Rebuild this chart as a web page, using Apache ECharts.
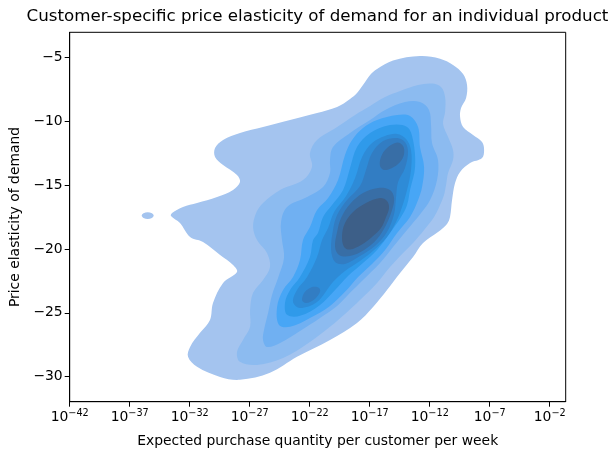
<!DOCTYPE html>
<html>
<head>
<meta charset="utf-8">
<script src="https://cdn.jsdelivr.net/npm/echarts@6/dist/echarts.min.js"></script>
<style>
  html, body { margin: 0; padding: 0; background: #fff; }
  #chart { width: 615px; height: 459px; }
</style>
</head>
<body>
<div id="chart"></div>
<script>
// x values are log10(expected purchase quantity), y values are price elasticity
var xTicks = [-42, -37, -32, -27, -22, -17, -12, -7, -2]
var yTicks = [-30, -25, -20, -15, -10, -5]

// filled KDE contour bands, lowest density first
var level1 = [
  [-18.06, -7.79], [-17.56, -7.17], [-16.97, -6.39], [-16.39, -5.92], [-15.06, -5.25],
  [-12.81, -4.90], [-11.14, -5.11], [-10.06, -5.60], [-9.22, -6.31], [-8.89, -7.17],
  [-8.97, -8.18], [-9.39, -8.97], [-9.47, -9.67], [-9.22, -10.45], [-8.39, -11.08],
  [-7.64, -11.63], [-7.47, -12.25], [-7.64, -12.88], [-8.64, -13.27], [-9.47, -13.97],
  [-9.89, -14.84], [-10.14, -16.17], [-10.31, -17.50], [-10.56, -18.04], [-11.31, -18.67],
  [-12.56, -19.53], [-13.39, -20.63], [-14.47, -21.88], [-15.56, -23.21], [-16.72, -24.54],
  [-18.06, -25.79], [-20.31, -27.12], [-23.06, -28.45], [-25.31, -29.70], [-27.81, -30.25],
  [-29.47, -30.02], [-31.39, -29.23], [-32.14, -28.45], [-31.97, -27.67], [-31.14, -26.57],
  [-30.31, -25.56], [-30.06, -24.23], [-29.22, -22.66], [-28.06, -21.80], [-28.39, -21.25],
  [-29.47, -20.47], [-30.89, -19.45], [-31.97, -19.06], [-32.81, -17.97], [-33.56, -17.42],
  [-33.47, -17.18], [-32.56, -16.71], [-31.39, -16.40], [-29.72, -15.93], [-28.39, -15.38],
  [-27.81, -14.76], [-28.06, -14.21], [-29.22, -13.43], [-29.89, -12.80], [-29.89, -12.10],
  [-29.22, -11.47], [-27.81, -10.92], [-25.89, -10.45], [-23.64, -9.91], [-21.39, -9.36],
  [-19.72, -8.89], [-18.64, -8.26]
]
var level1Speck = [
  [-35.0, -17.39], [-35.15, -17.2], [-35.5, -17.12], [-35.85, -17.2],
  [-36.0, -17.39], [-35.85, -17.58], [-35.5, -17.66], [-35.15, -17.58]
]
var level2 = [
  [-22.56, -14.60], [-21.81, -13.58], [-21.98, -12.49], [-21.39, -11.47], [-19.72, -10.45],
  [-18.22, -9.51], [-16.97, -8.81], [-15.72, -8.11], [-14.47, -7.64], [-12.97, -7.17],
  [-11.81, -7.05], [-11.06, -7.32], [-10.72, -8.11], [-10.72, -9.28], [-10.89, -10.22],
  [-10.47, -11.24], [-10.06, -12.25], [-10.06, -13.04], [-10.47, -14.05], [-10.64, -14.99],
  [-10.81, -15.77], [-11.14, -16.56], [-11.64, -17.50], [-12.47, -18.51], [-13.39, -19.53],
  [-14.22, -20.31], [-15.31, -21.41], [-16.39, -22.66], [-17.81, -23.99], [-19.06, -25.09],
  [-20.31, -26.10], [-21.98, -27.28], [-24.22, -28.53], [-26.39, -29.08], [-27.81, -28.84],
  [-28.06, -28.06], [-27.56, -27.12], [-26.97, -26.10], [-26.97, -24.77], [-26.72, -23.44],
  [-25.89, -22.43], [-25.31, -21.41], [-25.56, -20.31], [-26.39, -19.30], [-26.72, -18.28],
  [-26.47, -17.18], [-25.89, -16.40], [-24.47, -15.38]
]
var level3 = [
  [-23.89, -16.71], [-22.22, -15.93], [-20.89, -15.15], [-20.31, -14.05], [-20.31, -13.04],
  [-20.06, -12.02], [-18.64, -10.92], [-16.97, -9.91], [-15.72, -9.12], [-14.06, -8.50],
  [-12.81, -8.50], [-12.06, -9.12], [-11.89, -10.30], [-11.81, -11.71], [-11.31, -13.04],
  [-11.39, -14.60], [-11.97, -16.17], [-12.72, -17.18], [-13.89, -18.51], [-15.06, -19.84],
  [-16.14, -21.10], [-17.56, -22.43], [-18.64, -23.44], [-19.72, -24.46], [-21.14, -25.40],
  [-22.81, -26.42], [-24.47, -27.36], [-25.56, -27.67], [-25.89, -27.12], [-25.81, -26.34],
  [-25.47, -25.01], [-25.14, -23.60], [-24.64, -22.27], [-24.14, -20.70], [-24.31, -19.30],
  [-24.39, -17.89]
]
var level4 = [
  [-21.98, -18.28], [-21.39, -16.95], [-20.47, -16.01], [-19.64, -14.60], [-19.06, -12.64],
  [-18.47, -11.47], [-17.56, -10.53], [-16.39, -9.91], [-14.72, -9.51], [-13.64, -9.59],
  [-12.97, -10.45], [-12.81, -12.02], [-12.47, -13.58], [-12.64, -15.15], [-12.97, -16.17],
  [-13.64, -17.50], [-14.72, -18.75], [-15.72, -20.08], [-16.81, -21.17], [-17.97, -22.19],
  [-19.06, -23.36], [-20.31, -24.46], [-21.98, -25.40], [-23.64, -26.10], [-24.56, -25.95],
  [-24.72, -24.54], [-24.22, -23.21], [-23.39, -22.19], [-22.81, -20.86], [-22.56, -19.30]
]
var level5 = [
  [-21.31, -18.75], [-20.89, -17.50], [-20.14, -16.56], [-19.22, -15.38], [-18.64, -13.66],
  [-18.06, -12.02], [-16.97, -10.92], [-15.31, -10.30], [-13.89, -10.45], [-13.39, -11.47],
  [-13.22, -13.58], [-13.64, -15.38], [-13.89, -16.56], [-14.39, -17.50], [-15.31, -18.75],
  [-16.39, -20.08], [-17.56, -21.10], [-18.81, -22.11], [-19.89, -23.21], [-21.14, -24.38],
  [-22.81, -25.24], [-23.89, -25.16], [-24.06, -24.23], [-23.64, -23.21], [-22.81, -22.19],
  [-21.98, -20.63], [-21.72, -19.30]
]
var level6 = [
  [-17.64, -12.80], [-16.81, -11.71], [-15.72, -11.16], [-14.72, -11.00], [-13.97, -11.39],
  [-13.56, -12.25], [-13.56, -13.82], [-13.89, -15.38], [-14.31, -16.71], [-14.81, -17.89],
  [-15.56, -19.06], [-16.64, -20.08], [-17.81, -20.94], [-19.06, -21.72], [-20.06, -22.58],
  [-21.39, -24.15], [-22.81, -24.62], [-23.39, -24.15], [-23.06, -23.21], [-22.22, -22.19],
  [-21.39, -20.63], [-20.97, -19.30], [-20.47, -18.36], [-19.97, -17.10], [-18.97, -15.85],
  [-18.22, -14.44]
]
var level7 = [
  [-16.81, -12.49], [-15.89, -11.55], [-14.72, -11.31], [-14.06, -11.63], [-13.81, -12.41],
  [-14.06, -13.66], [-14.64, -14.76], [-14.81, -16.01], [-14.97, -17.26], [-15.56, -18.67],
  [-16.56, -19.77], [-17.81, -20.55], [-19.06, -21.17], [-19.89, -21.02], [-20.22, -20.08],
  [-20.06, -18.51], [-19.72, -17.34], [-18.89, -16.17], [-17.81, -15.07], [-17.31, -13.82]
]
var level7Low = [
  [-22.64, -23.99], [-22.39, -23.36], [-21.72, -22.97], [-21.22, -23.05],
  [-21.14, -23.36], [-21.56, -23.91], [-22.31, -24.23]
]
var level8Up = [
  [-14.72, -11.67], [-14.22, -11.94], [-14.14, -12.57], [-14.47, -13.19], [-15.14, -13.66],
  [-15.81, -13.82], [-16.14, -13.51], [-16.06, -12.80], [-15.56, -12.10]
]
var level8Low = [
  [-15.31, -15.38], [-14.97, -16.01], [-15.14, -16.95], [-15.64, -18.12], [-16.39, -19.22],
  [-17.47, -20.08], [-18.64, -20.55], [-19.56, -20.47], [-19.89, -19.84], [-19.72, -18.67],
  [-19.39, -17.57], [-18.64, -16.48], [-17.56, -15.62], [-16.31, -15.23]
]
var level9 = [
  [-16.14, -16.01], [-15.56, -16.24], [-15.39, -16.79], [-15.64, -17.50], [-16.06, -18.36],
  [-16.81, -19.06], [-17.72, -19.69], [-18.64, -20.04], [-19.14, -19.84], [-19.31, -18.98],
  [-19.06, -17.97], [-18.39, -17.10], [-17.31, -16.40]
]

var bandColors = ['#a4c4ef', '#8cbbf0', '#70b0f2', '#47a6f6', '#2f9aea', '#2e8bd7', '#327dc3', '#386ea6', '#3d5f88']

var bands = [
  {pts: level1, level: 0},
  {pts: level1Speck, level: 0},
  {pts: level2, level: 1},
  {pts: level3, level: 2},
  {pts: level4, level: 3},
  {pts: level5, level: 4},
  {pts: level6, level: 5},
  {pts: level7, level: 6},
  {pts: level7Low, level: 6},
  {pts: level8Up, level: 7},
  {pts: level8Low, level: 7},
  {pts: level9, level: 8}
]

var myChart = echarts.init(document.getElementById('chart'))
var font = 'DejaVu Sans'

function minus (v) {
  return String(v).replace('-', '\u2212')
}

var option = {
  animation: false,
  backgroundColor: '#fff',
  title: {
    text: 'Customer-specific price elasticity of demand for an individual product',
    left: 312.5,
    top: 3,
    textAlign: 'center',
    textStyle: {
      fontFamily: font,
      fontSize: 16.7,
      fontWeight: 'normal',
      color: '#000'
    }
  },
  grid: {
    left: 69.7,
    right: 49.3,
    top: 32.3,
    bottom: 57.3,
    show: true,
    borderColor: '#000',
    borderWidth: 1,
    backgroundColor: 'transparent'
  },
  xAxis: {
    type: 'value',
    min: -42,
    max: -0.67,
    name: 'Expected purchase quantity per customer per week',
    nameLocation: 'middle',
    nameGap: 33,
    nameTextStyle: {fontFamily: font, fontSize: 13.9, color: '#000'},
    splitLine: {show: false},
    axisLine: {show: true, onZero: false, lineStyle: {color: '#000', width: 1}},
    axisTick: {show: true, length: 5, customValues: xTicks, lineStyle: {color: '#000'}},
    axisLabel: {
      customValues: xTicks,
      margin: 7,
      color: '#000',
      formatter: function (v) {
        return '{b|10}{s|' + minus(v) + '}'
      },
      rich: {
        b: {fontFamily: font, fontSize: 13.9, color: '#000'},
        s: {fontFamily: font, fontSize: 9.7, color: '#000', padding: [0, 0, 7, 0]}
      }
    }
  },
  yAxis: {
    type: 'value',
    min: -31.96,
    max: -3.04,
    name: 'Price elasticity of demand',
    nameLocation: 'middle',
    nameGap: 46,
    nameTextStyle: {fontFamily: font, fontSize: 13.9, color: '#000'},
    splitLine: {show: false},
    axisLine: {show: true, onZero: false, lineStyle: {color: '#000', width: 1}},
    axisTick: {show: true, length: 5, customValues: yTicks, lineStyle: {color: '#000'}},
    axisLabel: {
      customValues: yTicks,
      margin: 7,
      fontFamily: font,
      fontSize: 13.9,
      color: '#000',
      formatter: function (v) {
        return minus(v)
      }
    }
  },
  series: [
    {
      type: 'custom',
      coordinateSystem: 'cartesian2d',
      silent: true,
      clip: true,
      data: bands.map(function (b) { return b.pts[0] }),
      renderItem: function (params, api) {
        var band = bands[params.dataIndex]
        var points = band.pts.map(function (p) { return api.coord(p) })
        return {
          type: 'polygon',
          shape: {points: points, smooth: 0.35},
          style: {fill: bandColors[band.level]}
        }
      }
    }
  ]
}
option && myChart.setOption(option)
</script>
</body>
</html>
